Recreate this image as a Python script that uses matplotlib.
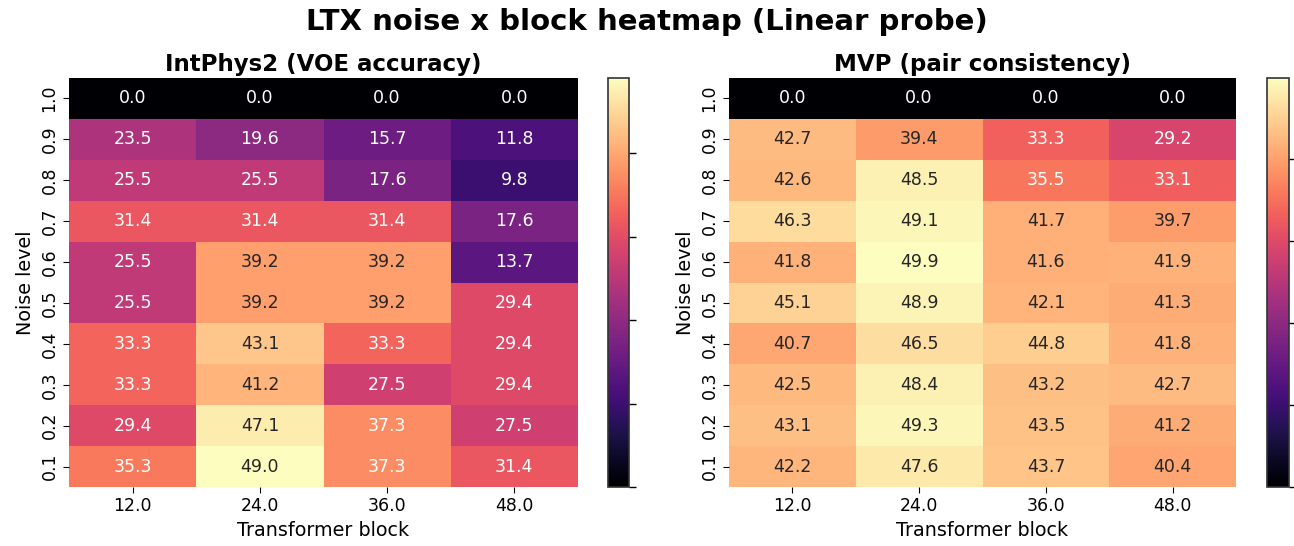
import numpy as np
import matplotlib
matplotlib.use("Agg")
import matplotlib.pyplot as plt
import seaborn as sns

# ================================
# data (rows: noise 1.0 -> 0.1, cols: blocks)
# ================================
blocks = [12.0, 24.0, 36.0, 48.0]
noise_levels = [1.0, 0.9, 0.8, 0.7, 0.6, 0.5, 0.4, 0.3, 0.2, 0.1]

intphys2_acc = [
    [0.0, 0.0, 0.0, 0.0],
    [23.5, 19.6, 15.7, 11.8],
    [25.5, 25.5, 17.6, 9.8],
    [31.4, 31.4, 31.4, 17.6],
    [25.5, 39.2, 39.2, 13.7],
    [25.5, 39.2, 39.2, 29.4],
    [33.3, 43.1, 33.3, 29.4],
    [33.3, 41.2, 27.5, 29.4],
    [29.4, 47.1, 37.3, 27.5],
    [35.3, 49.0, 37.3, 31.4],
]

mvp_pair = [
    [0.0, 0.0, 0.0, 0.0],
    [42.7, 39.4, 33.3, 29.2],
    [42.6, 48.5, 35.5, 33.1],
    [46.3, 49.1, 41.7, 39.7],
    [41.8, 49.9, 41.6, 41.9],
    [45.1, 48.9, 42.1, 41.3],
    [40.7, 46.5, 44.8, 41.8],
    [42.5, 48.4, 43.2, 42.7],
    [43.1, 49.3, 43.5, 41.2],
    [42.2, 47.6, 43.7, 40.4],
]

titles = ["IntPhys2 (VOE accuracy)", "MVP (pair consistency)"]

# ================================
# figure
# ================================
W, H = 1294, 546
fig = plt.figure(figsize=(W / 100, H / 100), dpi=100)

def box(x0, y0, x1, y1):
    return [x0 / W, 1 - y1 / H, (x1 - x0) / W, (y1 - y0) / H]

axes_pos = [box(69, 78, 578, 487), box(729, 78, 1236, 487)]
cbar_pos = [box(608, 78, 629, 487), box(1267, 78, 1289, 487)]

for data, title, apos, cpos in zip([intphys2_acc, mvp_pair], titles, axes_pos, cbar_pos):
    ax = fig.add_axes(apos)
    cax = fig.add_axes(cpos)
    sns.heatmap(np.array(data), ax=ax, cbar_ax=cax, cmap="magma",
                annot=True, fmt=".1f", annot_kws={"fontsize": 12.5},
                xticklabels=[f"{b:.1f}" for b in blocks],
                yticklabels=[f"{n:.1f}" for n in noise_levels])
    ax.set_title(title, fontsize=16.5, fontweight="bold", pad=5)
    ax.set_xlabel("Transformer block", fontsize=13.8)
    ax.set_ylabel("Noise level", fontsize=13.8)
    ax.tick_params(axis="both", labelsize=12.5, length=4)
    plt.setp(ax.get_yticklabels(), rotation=90, va="center")
    plt.setp(ax.get_xticklabels(), rotation=0)
    # colorbar: outline and tick marks, no labels
    cax.set_yticks([0, 10, 20, 30, 40])
    cax.set_yticklabels([])
    cax.tick_params(axis="y", length=5, width=1)
    cbar = ax.collections[0].colorbar
    cbar.outline.set_linewidth(1.2)
    cbar.outline.set_edgecolor("#333333")

fig.suptitle("LTX noise x block heatmap (Linear probe)", fontsize=21,
             fontweight="bold", y=1 - 22 / H, va="center")

plt.savefig("out.png", dpi=100)
